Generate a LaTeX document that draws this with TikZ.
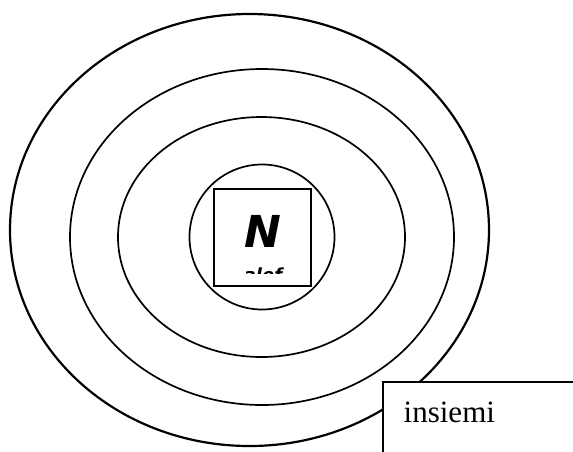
\documentclass[tikz,border=0pt]{standalone}
\usepackage{fontspec}
\setmainfont{Liberation Serif}
\newfontfamily\nfont{DejaVu Sans}
\begin{document}
\begin{tikzpicture}[x=1pt,y=-1pt,
  ring/.style={draw=black, line width=1.7pt},
  outerring/.style={draw=black, line width=2.2pt},
  frame/.style={draw=black, line width=2pt, inner sep=0pt}]
\useasboundingbox (0,0) rectangle (573,451);
\draw[outerring] (249.5,230) ellipse [x radius=239.5, y radius=216];
\draw[ring] (262,237) ellipse [x radius=192, y radius=168];
\draw[ring] (261.5,237) ellipse [x radius=143.5, y radius=120];
\draw[ring] (262,237) circle [radius=72.5];
\node[frame, minimum size=97pt] (sq) at (262.5,237.3) {};
\node[anchor=base, inner sep=0pt] (N) at (263,247) {\nfont\bfseries\itshape\fontsize{44}{48}\selectfont N};
\begin{scope}
  \clip (214,200) rectangle (311,273.5);
  \node[anchor=base, inner sep=0pt] (alef) at (263,281) {\nfont\bfseries\itshape\fontsize{18}{20}\selectfont alef};
\end{scope}
\node[frame, fill=white, anchor=north west, minimum width=260pt, minimum height=100pt] (box) at (382.3,381) {};
\node[anchor=base west, inner sep=0pt] (lab) at (403.5,422.3) {\fontsize{31}{33}\selectfont insiemi};
\end{tikzpicture}
\end{document}
